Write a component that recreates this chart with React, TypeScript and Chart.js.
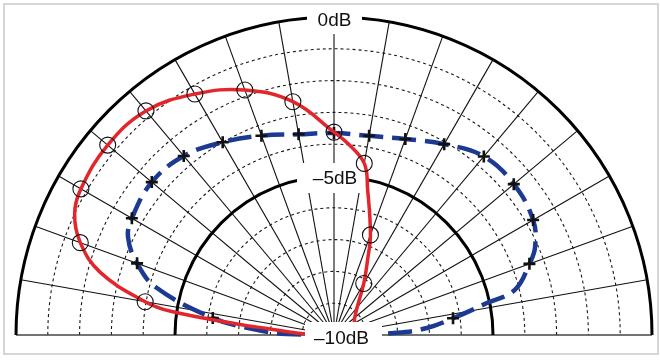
import React, { useEffect, useRef } from 'react';
import { Chart, registerables } from 'chart.js';
Chart.register(...registerables);

// Radial axis (dB) and grid
const DB_MIN = -10;
const DB_MAX = 0;
const minorRings = [-9, -8, -7, -6, -4, -3, -2, -1];
const majorRings = [-5, 0];
const spokeAngles = [-80, -70, -60, -50, -40, -30, -20, -10, 0, 10, 20, 30, 40, 50, 60, 70, 80];
const tickValues = [0, -5, -10];
const tickLabels = ['0dB', '–5dB', '–10dB'];

// Series 1 (red, solid, circle markers): angle in degrees from the top, level in dB
const redAngles = [-90, -87.7, -84.6, -83.5, -81.7, -80, -75, -70, -65, -60, -50, -40, -30, -20, -10, 0, 4, 10, 13, 20, 24, 30, 40, 50, 60, 90];
const redDb = [-10, -9.03, -7.97, -6.93, -4.78, -3.97, -2.39, -1.51, -1.0, -0.81, -0.71, -0.8, -1.25, -1.8, -2.55, -3.62, -3.95, -4.52, -5.3, -6.65, -7.4, -8.13, -8.87, -9.15, -9.3, -10];
const redMarkerAngles = [-80, -70, -60, -50, -40, -30, -20, -10, 0, 10, 20, 30];

// Series 2 (blue, dashed, cross markers)
const blueAngles = [-90, -88.8, -85.8, -82, -75, -70, -64.6, -60, -50, -40, -30, -20, -10, 0, 10, 20, 30, 40, 50, 60, 66.4, 70, 76, 78.2, 82, 85.7, 88, 90];
const blueDb = [-10, -8.52, -7.45, -6.15, -4.2, -3.41, -2.83, -2.66, -2.52, -2.65, -3.0, -3.33, -3.59, -3.65, -3.64, -3.44, -3.07, -2.67, -2.62, -2.77, -3.1, -3.46, -4.14, -5.09, -6.22, -7.07, -8.02, -10];
const blueMarkerAngles = [-82, -70, -60, -50, -40, -30, -20, -10, 0, 10, 20, 30, 40, 50, 60, 70, 82];

function toXY(angle: number, db: number) {
  const r = db - DB_MIN;
  const t = (angle * Math.PI) / 180;
  return { x: r * Math.sin(t), y: r * Math.cos(t) };
}

const FONT = '19px "Liberation Sans", Arial, Helvetica, sans-serif';

function geom(chart: any) {
  const xs = chart.scales.x;
  const ys = chart.scales.y;
  const cx = xs.getPixelForValue(0);
  const cy = ys.getPixelForValue(0);
  const rad = (db: number) => xs.getPixelForValue(db - DB_MIN) - cx;
  return { cx, cy, rad };
}

function drawLabel(ctx: CanvasRenderingContext2D, text: string, tx: number, ty: number, box: [number, number, number, number]) {
  ctx.fillStyle = '#ffffff';
  ctx.fillRect(box[0], box[1], box[2], box[3]);
  ctx.fillStyle = '#111111';
  ctx.font = FONT;
  ctx.textAlign = 'center';
  ctx.textBaseline = 'middle';
  ctx.fillText(text, tx, ty);
}

const polarGrid = {
  id: 'polarGrid',
  beforeDraw(chart: any) {
    const ctx = chart.ctx as CanvasRenderingContext2D;
    ctx.save();
    ctx.fillStyle = '#ffffff';
    ctx.fillRect(0, 0, chart.width, chart.height);
    ctx.strokeStyle = '#d6d6d6';
    ctx.lineWidth = 2;
    ctx.strokeRect(4, 4, 654, 350);
    ctx.restore();
  },
  beforeDatasetsDraw(chart: any) {
    const ctx = chart.ctx as CanvasRenderingContext2D;
    const { cx, cy, rad } = geom(chart);
    const R = rad(DB_MAX);
    ctx.save();
    // minor dashed rings
    ctx.strokeStyle = '#1a1a1a';
    ctx.lineWidth = 1.1;
    ctx.setLineDash([3, 3]);
    for (const db of minorRings) {
      ctx.beginPath();
      ctx.arc(cx, cy, rad(db), Math.PI, 2 * Math.PI);
      ctx.stroke();
    }
    ctx.setLineDash([]);
    // spokes
    ctx.lineWidth = 1.1;
    ctx.strokeStyle = '#111111';
    for (const a of spokeAngles) {
      const t = (a * Math.PI) / 180;
      ctx.beginPath();
      ctx.moveTo(cx, cy);
      ctx.lineTo(cx + R * Math.sin(t), cy - R * Math.cos(t));
      ctx.stroke();
    }
    // baseline
    ctx.strokeStyle = '#444444';
    ctx.lineWidth = 1.6;
    ctx.beginPath();
    ctx.moveTo(cx - R, cy);
    ctx.lineTo(cx + R, cy);
    ctx.stroke();
    // major rings
    ctx.strokeStyle = '#000000';
    ctx.lineWidth = 3;
    for (const db of majorRings) {
      ctx.beginPath();
      ctx.arc(cx, cy, rad(db), Math.PI, 2 * Math.PI);
      ctx.stroke();
    }
    // labels 0dB and -5dB (under the data)
    const t0 = cy - rad(tickValues[0]);
    drawLabel(ctx, tickLabels[0], cx + 0.5, t0 + 3.5, [cx - 27, t0 - 12, 55, 29]);
    const t5 = cy - rad(tickValues[1]);
    drawLabel(ctx, tickLabels[1], cx + 1, t5 + 2.5, [cx - 37, t5 - 13, 71, 30]);
    ctx.restore();
  },
  afterDatasetsDraw(chart: any) {
    const ctx = chart.ctx as CanvasRenderingContext2D;
    const { cx, cy, rad } = geom(chart);
    const t10 = cy - rad(tickValues[2]);
    ctx.save();
    drawLabel(ctx, tickLabels[2], cx + 7.5, t10 + 4, [cx - 29, t10 - 13, 77, 29]);
    ctx.restore();
  },
};

export default function App() {
  const ref = useRef<HTMLCanvasElement | null>(null);
  useEffect(() => {
    if (!ref.current) return;
    const redPts = redAngles.map((a, i) => toXY(a, redDb[i]));
    const bluePts = blueAngles.map((a, i) => toXY(a, blueDb[i]));
    const chart = new Chart(ref.current, {
      type: 'scatter',
      data: {
        datasets: [
          {
            data: redPts,
            showLine: true,
            borderColor: '#e3262c',
            borderWidth: 3.5,
            tension: 0.4,
            fill: false,
            clip: false as any,
            order: 0,
            pointStyle: 'circle',
            pointRadius: (c: any) => (redMarkerAngles.includes(redAngles[c.dataIndex]) ? 8 : 0),
            pointBorderWidth: 1.1,
            pointBorderColor: '#111111',
            pointBackgroundColor: 'rgba(0,0,0,0)',
          },
          {
            data: bluePts,
            showLine: true,
            borderColor: '#1d3a92',
            borderWidth: 4.5,
            borderDash: [24, 9],
            borderCapStyle: 'butt',
            tension: 0.4,
            fill: false,
            clip: false as any,
            order: 1,
            pointStyle: 'cross',
            pointRadius: (c: any) => (blueMarkerAngles.includes(blueAngles[c.dataIndex]) ? 6 : 0),
            pointBorderWidth: 2.6,
            pointBorderColor: '#111111',
            pointBackgroundColor: '#111111',
          },
        ],
      },
      options: {
        animation: false,
        responsive: false,
        events: [],
        layout: { padding: { left: 16, right: 8, top: 17, bottom: 25 } },
        plugins: { legend: { display: false }, tooltip: { enabled: false } },
        scales: {
          x: { type: 'linear', min: DB_MIN - DB_MAX, max: DB_MAX - DB_MIN, display: false },
          y: { type: 'linear', min: 0, max: DB_MAX - DB_MIN, display: false },
        },
      },
      plugins: [polarGrid],
    });
    return () => chart.destroy();
  }, []);
  return (
    <div style={{ position: 'fixed', left: 0, top: 0, width: 660, height: 360, background: '#fff' }}>
      <canvas ref={ref} width={660} height={360} style={{ display: 'block' }} />
    </div>
  );
}
